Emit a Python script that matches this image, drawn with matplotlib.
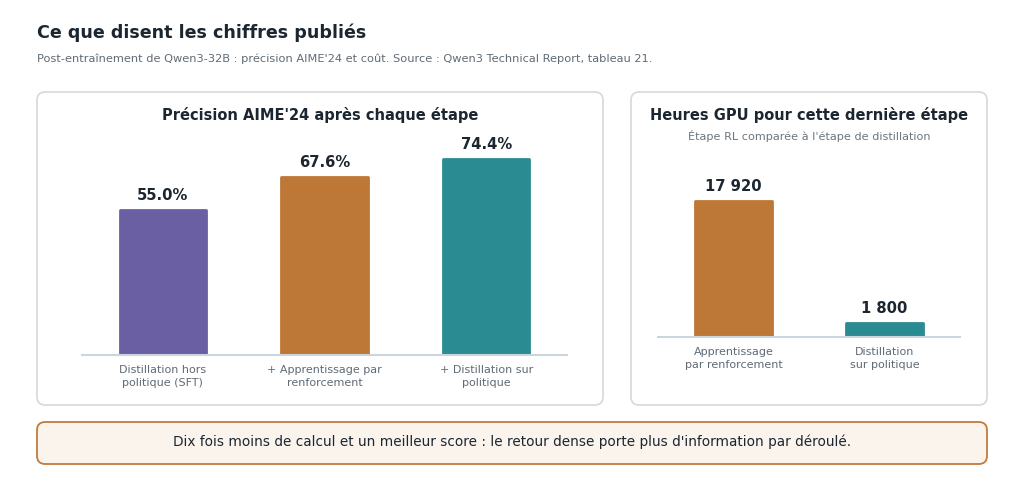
import matplotlib.pyplot as plt
from matplotlib.patches import FancyBboxPatch

plt.rcParams['font.family'] = ['DejaVu Sans']

# données
etapes = ['Distillation hors\npolitique (SFT)', '+ Apprentissage par\nrenforcement', '+ Distillation sur\npolitique']
precision = [55.0, 67.6, 74.4]

etapes_gpu = ['Apprentissage\npar renforcement', 'Distillation\nsur politique']
heures_gpu = [17920, 1800]

couleurs = ['#6a5fa3', '#bd7736', '#2a8b92']
couleurs_gpu = ['#bd7736', '#2a8b92']

W, H = 1024, 484
fig = plt.figure(figsize=(W / 100, H / 100), dpi=100)
fig.patch.set_facecolor('white')


def px(x, y):
    return x / W, 1 - y / H


def boite(x0, y0, x1, y1, face, edge, lw=1.2):
    (fx0, fy1), (fx1, fy0) = px(x0, y0), px(x1, y1)
    p = FancyBboxPatch((fx0, fy0), fx1 - fx0, fy1 - fy0,
                       boxstyle='round,pad=0,rounding_size=0.008',
                       transform=fig.transFigure, facecolor=face, edgecolor=edge,
                       linewidth=lw, mutation_aspect=W / H, zorder=-5)
    fig.patches.append(p)


# titre
fig.text(*px(37, 33), 'Ce que disent les chiffres publiés', fontsize=12.6, fontweight='bold',
         color='#1b2631', va='center', ha='left')
fig.text(*px(37, 59), "Post-entraînement de Qwen3-32B : précision AIME'24 et coût. Source : Qwen3 Technical Report, tableau 21.",
         fontsize=8.2, color='#5f6b76', va='center', ha='left')

# cadres
boite(37, 92, 603, 405, 'white', '#d3d9de')
boite(631, 92, 987, 405, 'white', '#d3d9de')
boite(37, 422, 987, 464, '#fbf4ec', '#c27b3c', lw=1.3)

fig.text(*px(320, 115), "Précision AIME'24 après chaque étape", fontsize=10.5, fontweight='bold',
         color='#1b2631', ha='center', va='center')
fig.text(*px(809, 115), 'Heures GPU pour cette dernière étape', fontsize=10.5, fontweight='bold',
         color='#1b2631', ha='center', va='center')
fig.text(*px(809, 136), "Étape RL comparée à l'étape de distillation", fontsize=8.1, color='#6b7680',
         ha='center', va='center')
fig.text(*px(512, 442), "Dix fois moins de calcul et un meilleur score : le retour dense porte plus d'information par déroulé.",
         fontsize=9.8, color='#1b2631', ha='center', va='center')


def style_axe(ax):
    for s in ['top', 'right', 'left']:
        ax.spines[s].set_visible(False)
    ax.spines['bottom'].set_color('#cdd5dc')
    ax.spines['bottom'].set_linewidth(1.5)
    ax.spines['bottom'].set_zorder(3)
    ax.set_yticks([])
    ax.tick_params(axis='x', length=0, pad=7, labelsize=8, labelcolor='#5f6b76')
    for t in ax.get_xticklabels():
        t.set_linespacing(1.45)
    ax.patch.set_alpha(0)


# graphique gauche
ax1 = fig.add_axes([82 / W, 1 - 355 / H, 485 / W, 225 / H])
bars = ax1.bar(range(len(etapes)), precision, width=0.535, color=couleurs,
               edgecolor=couleurs, linewidth=2, joinstyle='round', zorder=2)
ax1.set_xlim(-0.5, len(etapes) - 0.5)
ax1.set_ylim(0, 85.6)
ax1.set_xticks(range(len(etapes)))
ax1.set_xticklabels(etapes)
style_axe(ax1)
for b, v in zip(bars, precision):
    ax1.annotate(f'{v:.1f}%', (b.get_x() + b.get_width() / 2, v), xytext=(0, 5),
                 textcoords='offset points', ha='center', va='bottom',
                 fontsize=10.6, fontweight='bold', color='#1b2631')

# graphique droit
ax2 = fig.add_axes([658 / W, 1 - 337 / H, 302 / W, 177 / H])
bars = ax2.bar(range(len(etapes_gpu)), heures_gpu, width=0.51, color=couleurs_gpu,
               edgecolor=couleurs_gpu, linewidth=2, joinstyle='round', zorder=2)
ax2.set_xlim(-0.5, len(etapes_gpu) - 0.5)
ax2.set_ylim(0, 23300)
ax2.set_xticks(range(len(etapes_gpu)))
ax2.set_xticklabels(etapes_gpu)
style_axe(ax2)
for b, v in zip(bars, heures_gpu):
    ax2.annotate(f'{v:,}'.replace(',', ' '), (b.get_x() + b.get_width() / 2, v), xytext=(0, 5),
                 textcoords='offset points', ha='center', va='bottom',
                 fontsize=10.6, fontweight='bold', color='#1b2631')

fig.savefig('out.png', dpi=100)
